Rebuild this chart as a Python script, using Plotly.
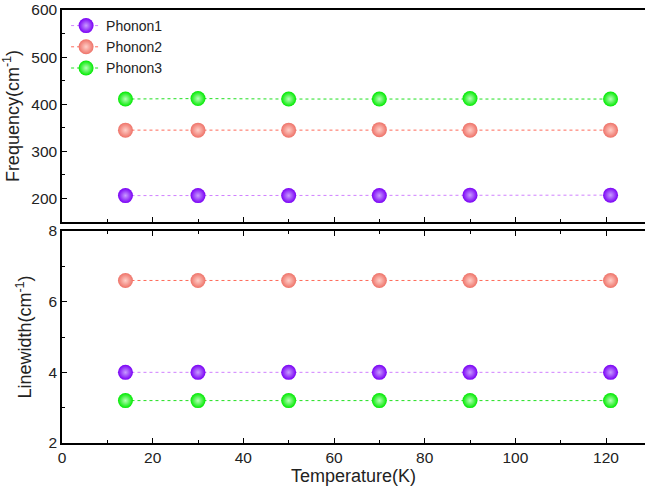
import plotly.graph_objects as go

temperature = [14, 30, 50, 70, 90, 121]
freq_phonon1 = [206, 206, 206, 206, 207, 207]
freq_phonon2 = [345, 345, 345, 346, 345, 345]
freq_phonon3 = [411, 412, 411, 411, 412, 411]
lw_phonon1 = [4.0, 4.0, 4.0, 4.0, 4.0, 4.0]
lw_phonon2 = [6.6, 6.6, 6.6, 6.6, 6.6, 6.6]
lw_phonon3 = [3.2, 3.2, 3.2, 3.2, 3.2, 3.2]
names = ["Phonon1", "Phonon2", "Phonon3"]

marker_colors = ["#7A00F5", "#EE7268", "#00EA00"]
center_colors = ["#C89CFF", "#FFCFC8", "#B8FFB8"]
line_colors = ["#D080FF", "#FF6A5A", "#20E020"]

fig = go.Figure()
freqs = [freq_phonon1, freq_phonon2, freq_phonon3]
lws = [lw_phonon1, lw_phonon2, lw_phonon3]
for i in range(3):
    mk = dict(size=15, color=marker_colors[i],
              gradient=dict(type="radial", color=center_colors[i]),
              line=dict(width=0))
    fig.add_trace(go.Scatter(x=temperature, y=freqs[i], name=names[i], mode="lines+markers",
                             line=dict(color=line_colors[i], width=1, dash="dot"),
                             marker=mk, xaxis="x2", yaxis="y2", legendgroup=names[i]))
    fig.add_trace(go.Scatter(x=temperature, y=lws[i], name=names[i], mode="lines+markers",
                             line=dict(color=line_colors[i], width=1, dash="dot"),
                             marker=mk, xaxis="x", yaxis="y", showlegend=False, legendgroup=names[i]))

font = "Liberation Sans, Arial, sans-serif"
axis_common = dict(showline=True, linecolor="black", linewidth=1.5, ticks="inside",
                   tickcolor="black", ticklen=5, tickwidth=1.2, showgrid=False, zeroline=False,
                   automargin=False, showspikes=False,
                   tickfont=dict(family=font, size=15.5, color="#222"))
minor_x = dict(dtick=10, ticks="inside", ticklen=3, tickcolor="black", tickwidth=1, showgrid=False)
title_font = dict(family=font, size=18, color="#222")
x_range = [0, 128.6]

fig.update_layout(
    template="none",
    width=647, height=496,
    margin=dict(l=62, r=2, t=10, b=53, autoexpand=False),
    plot_bgcolor="white", paper_bgcolor="white",
    font=dict(family=font, color="#222"),
    showlegend=True,
    legend=dict(x=0.007, y=1.0, xanchor="left", yanchor="top", bgcolor="rgba(0,0,0,0)",
                font=dict(family=font, size=14, color="#222"), tracegroupgap=0),
    xaxis=dict(domain=[0, 1], range=x_range, anchor="y", dtick=20, tick0=0,
               mirror="ticks", minor=minor_x,
               title=dict(text="Temperature(K)", font=title_font, standoff=4),
               **axis_common),
    yaxis=dict(domain=[0, 0.4896], range=[2, 8], anchor="x", dtick=2, tick0=2, mirror=False,
               minor=dict(dtick=1, ticks="inside", ticklen=3, tickcolor="black", tickwidth=1, showgrid=False),
               title=dict(text="Linewidth(cm<sup>-1</sup>)", font=title_font, standoff=12),
               **axis_common),
    xaxis2=dict(domain=[0, 1], range=x_range, anchor="y2", dtick=20, tick0=0,
                mirror=True, showticklabels=False, minor=minor_x, **axis_common),
    yaxis2=dict(domain=[0.5104, 1], range=[150, 600], anchor="x2", dtick=100, tick0=0, mirror=False,
                minor=dict(dtick=50, ticks="inside", ticklen=3, tickcolor="black", tickwidth=1, showgrid=False),
                title=dict(text="Frequency(cm<sup>-1</sup>)", font=title_font, standoff=12),
                **axis_common),
)

fig.write_html("out.html", config={"displayModeBar": False},
               post_script="document.body.style.margin='0';document.body.style.overflow='hidden';")
